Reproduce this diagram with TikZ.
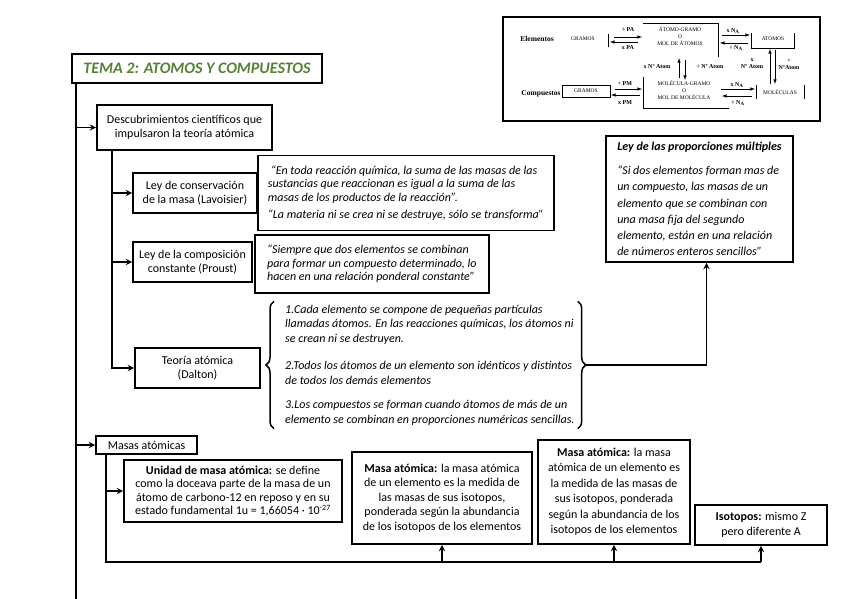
\documentclass[tikz,border=0pt]{standalone}
\usepackage{fontspec}
\setmainfont{Carlito}
\newfontfamily\insetfont{Liberation Serif}
\usepackage{tikz}
\usetikzlibrary{positioning, calc, decorations.pathreplacing}
\definecolor{titlegreen}{RGB}{84, 130, 53}

\begin{document}
\begin{tikzpicture}[
			x=1pt, y=-1pt,
			box/.style={draw, line width=1.8pt, fill=white, align=center, inner sep=0pt, font=\fontsize{12}{14.5}\selectfont},
			quote/.style={box, align=left, font=\fontsize{12}{13.5}\selectfont\itshape},
			arrow/.style={line width=1.8pt, ->, >=stealth},
			line/.style={line width=1.8pt},
			brace/.style={line width=1.5pt, decorate, decoration={brace, amplitude=8pt}},
			tag/.style={font=\insetfont\bfseries\fontsize{7.5}{8}\selectfont, inner sep=0pt},
			small/.style={font=\insetfont\fontsize{5.5}{6.5}\selectfont, inner sep=0pt, align=center},
			label/.style={font=\insetfont\bfseries\fontsize{6}{7}\selectfont, inner sep=0pt, align=center},
			tip/.style={line width=0.6pt, ->, >=latex}
		]

		\useasboundingbox (0,0) rectangle (848,599);

		\node (title) [box, line width=2pt, minimum width=250pt, minimum height=29pt, font=\fontsize{16}{18}\selectfont\bfseries\itshape, text=titlegreen] at (197,68.5) {TEMA 2: ATOMOS Y COMPUESTOS};

		\node (descub) [box, minimum width=175pt, minimum height=45pt] at (184.5,127.5) {Descubrimientos científicos que\\impulsaron la teoría atómica};

		\node (lavoisier) [box, minimum width=124pt, minimum height=40pt] at (195,193) {Ley de conservación\\de la masa (Lavoisier)};
		\node (quote1) [quote, minimum width=296pt, minimum height=75pt, right=-1pt of lavoisier] {\hspace{3pt}“En toda reacción química, la suma de las masas de las\\sustancias que reaccionan es igual a la suma de las\\masas de los productos de la reacción”.\\[4pt]“La materia ni se crea ni se destruye, sólo se transforma”};

		\node (proust) [box, minimum width=119pt, minimum height=40pt] at (192.5,262) {Ley de la composición\\constante (Proust)};
		\node (quote2) [quote, minimum width=234pt, minimum height=58pt, right=1pt of proust, yshift=-2pt] {“Siempre que dos elementos se combinan\\para formar un compuesto determinado, lo\\hacen en una relación ponderal constante”};

		\node (dalton) [box, minimum width=125pt, minimum height=40pt] at (197.5,368) {Teoría atómica\\(Dalton)};
		\node (postul) [align=left, inner sep=0pt, minimum height=127pt, anchor=west, font=\fontsize{12}{14.5}\selectfont\itshape] at (285,365) {1.Cada elemento se compone de pequeñas partículas\\llamadas átomos. En las reacciones químicas, los átomos ni\\se crean ni se destruyen.\\[13pt]2.Todos los átomos de un elemento son idénticos y distintos\\de todos los demás elementos\\[10pt]3.Los compuestos se forman cuando átomos de más de un\\elemento se combinan en proporciones numéricas sencillas.};
		\draw[brace] ([xshift=-11pt]postul.south west) -- ([xshift=-11pt]postul.north west);
		\draw[brace] ([xshift=3pt]postul.north east) -- ([xshift=3pt]postul.south east);
		\coordinate (tipR) at ([xshift=11pt]postul.east);

		\node (prop) [quote, minimum width=187pt, minimum height=126pt, font=\fontsize{12}{16.2}\selectfont\itshape] at (699.5,199) {\textbf{Ley de las proporciones múltiples}\\[8pt]“Si dos elementos forman mas de\\un compuesto, las masas de un\\elemento que se combinan con\\una masa fija del segundo\\elemento, están en una relación\\de números enteros sencillos”};

		\node (masas) [box, minimum width=101pt, minimum height=18pt] at (146.5,445) {Masas atómicas};
		\node (uma) [box, minimum width=218pt, minimum height=62pt, font=\fontsize{12}{13.4}\selectfont] at (233,491) {\textbf{Unidad de masa atómica:} se define\\como la doceava parte de la masa de un\\átomo de carbono-12 en reposo y en su\\estado fundamental 1u = 1,66054 · 10\textsuperscript{-27}};
		\node (masa1) [box, minimum width=180pt, minimum height=92pt] at (442,498) {\textbf{Masa atómica:} la masa atómica\\de un elemento es la medida de\\las masas de sus isotopos,\\ponderada según la abundancia\\de los isotopos de los elementos};
		\node (masa2) [box, minimum width=152pt, minimum height=104pt, font=\fontsize{12}{15.5}\selectfont] at (614,492) {\textbf{Masa atómica:} la masa\\atómica de un elemento es\\la medida de las masas de\\sus isotopos, ponderada\\según la abundancia de los\\isotopos de los elementos};
		\node (isot) [box, minimum width=132pt, minimum height=40pt] at (761,525) {\textbf{Isotopos:} mismo Z\\pero diferente A};

		\coordinate (trunktop) at ([xshift=5pt]title.south west);
		\coordinate (trunkend) at (trunktop |- 0,599);
		\draw[line] (trunktop) -- (trunkend);
		\draw[arrow] (trunktop |- descub.west) -- (descub.west);
		\draw[arrow] (trunktop |- masas.west) -- (masas.west);

		\coordinate (branch) at ([xshift=16pt]descub.south west);
		\draw[arrow] (branch) |- (dalton.west);
		\draw[arrow] (branch |- lavoisier.west) -- (lavoisier.west);
		\draw[arrow] (branch |- proust.west) -- (proust.west);

		\draw[arrow] (tipR) -| ([xshift=7pt]prop.south);

		\coordinate (mstem) at ([xshift=11pt]masas.south west);
		\coordinate (bus) at (0,562);
		\draw[line] (mstem) |- (bus -| isot.south);
		\draw[arrow] (mstem |- uma.west) -- (uma.west);
		\draw[arrow] (bus -| masa1.south) -- (masa1.south);
		\draw[arrow] (bus -| masa2.south) -- (masa2.south);
		\draw[arrow] (bus -| isot.south) -- (isot.south);

		\draw[line width=2pt] (503,17) rectangle (820,121);

		\node (elem) [tag] at (537,39) {Elementos};
		\node (comp) [tag] at (541,94) {Compuestos};

		\node (gramosE) [small] at (583,39) {GRAMOS};
		\draw[line width=0.8pt] (608,34) -- (608,47);
		\node (gramosC) [small, draw, line width=0.8pt, minimum width=48pt, minimum height=12pt] at (586,91) {GRAMOS};

		\node (atgr) [small, font=\insetfont\fontsize{5.5}{6.8}\selectfont] at (680,36) {ÁTOMO-GRAMO\\O\\MOL DE ÁTOMOS};
		\draw[line width=0.8pt] (643,23) -- (718,23) -- (718,57);
		\node (molgr) [small, font=\insetfont\fontsize{5.5}{7.2}\selectfont] at (684,90) {MOLÉCULA-GRAMO\\O\\MOL DE MOLÉCULA};
		\draw[line width=0.8pt] (643,77) -- (643,108) -- (729,108);

		\node (atomos) [small] at (773,39) {ATOMOS};
		\draw[line width=0.8pt] (751,33) -- (751,48) -- (794,48) -- (794,33);
		\node (molec) [small] at (780,92) {MOLÉCULAS};
		\draw[line width=0.8pt] (756,85) -- (756,99);
		\draw[line width=0.8pt] (804,85) -- (804,99);

		\node (divPA) [label] at (628,30) {÷ PA};
		\node (mulPA) [label] at (628,48) {x PA};
		\draw[tip] (614,37) -- (642,37);
		\draw[tip] (638,42) -- (610,42);

		\node (mulNA) [label] at (733,31) {x N\textsubscript{A}};
		\node (divNA) [label] at (736,48) {÷ N\textsubscript{A}};
		\draw[tip] (722,35) -- (750,35);
		\draw[tip] (748,43) -- (720,43);

		\node (mulAt) [label] at (657,67) {x Nº Atom};
		\node (divAt) [label] at (710,67) {÷ Nº Atom};
		\draw[tip] (679,78) -- (679,58);
		\draw[tip] (685,60) -- (685,80);

		\node (mulAt2) [label] at (752,64) {x\\Nº Atom};
		\node (divAt2) [label] at (789,64) {÷\\NºAtom};
		\draw[tip] (770,84) -- (770,49);
		\draw[tip] (775,50) -- (775,84);

		\node (divPM) [label] at (625,84) {÷ PM};
		\node (mulPM) [label] at (625,103) {x PM};
		\draw[tip] (615,89) -- (642,89);
		\draw[tip] (640,95) -- (611,95);

		\node (mulNA2) [label] at (737,85) {x N\textsubscript{A}};
		\node (divNA2) [label] at (738,103) {÷ N\textsubscript{A}};
		\draw[tip] (721,89) -- (755,89);
		\draw[tip] (752,96) -- (722,96);

	\end{tikzpicture}
\end{document}
